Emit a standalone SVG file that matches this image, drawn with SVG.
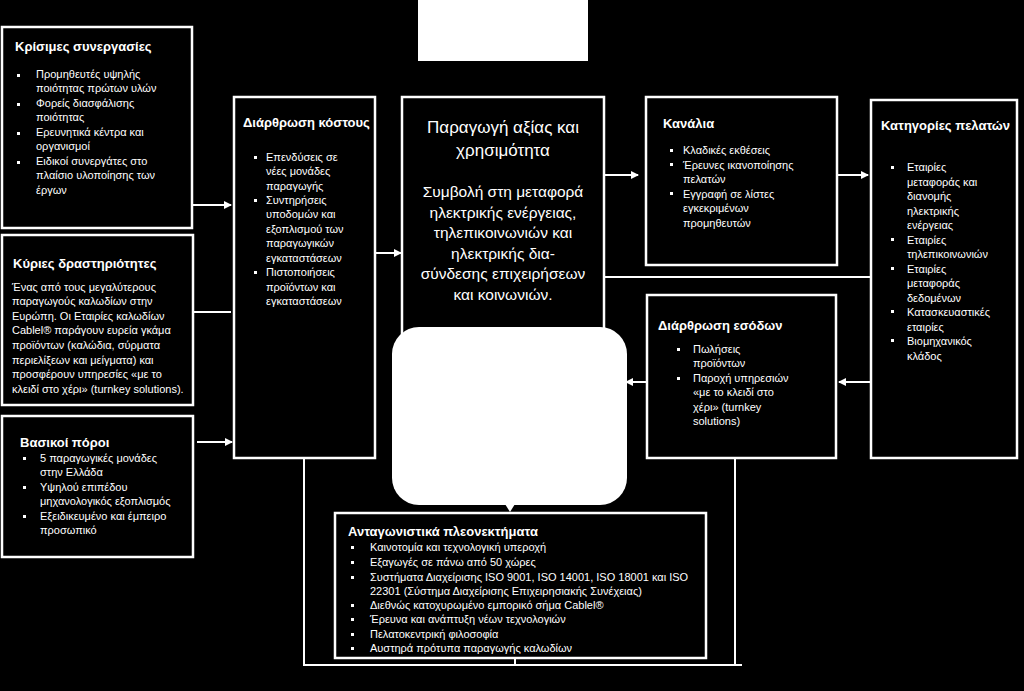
<svg xmlns="http://www.w3.org/2000/svg" width="1024" height="691" viewBox="0 0 1024 691">
<defs>
<style>
.box{fill:#000;stroke:#fff;stroke-width:2.5}
.t{font-family:"Liberation Sans",Arial,sans-serif;font-size:13px;font-weight:bold;fill:#fff}
.b{font-family:"Liberation Sans",Arial,sans-serif;font-size:11px;fill:#fff}
.c{font-family:"Liberation Sans",Arial,sans-serif;font-size:15.5px;fill:#fff;text-anchor:middle}
.ct{font-family:"Liberation Sans",Arial,sans-serif;font-size:17px;fill:#fff;text-anchor:middle}
.ln{stroke:#fff;stroke-width:2;fill:none}
.bu{fill:#fff}
</style>
<marker id="ah" markerWidth="8" markerHeight="8" refX="7" refY="4" orient="auto" markerUnits="userSpaceOnUse">
<path d="M0,0 L8,4 L0,8 Z" fill="#fff"/>
</marker>
</defs>
<rect width="1024" height="691" fill="#000"/>

<g id="connectors">
<line class="ln" x1="193" y1="205" x2="231" y2="205" marker-end="url(#ah)"/>
<line class="ln" x1="193" y1="312" x2="231" y2="312"/>
<line class="ln" x1="197" y1="442" x2="232" y2="442" marker-end="url(#ah)"/>
<line class="ln" x1="376" y1="253" x2="401" y2="253" marker-end="url(#ah)"/>
<line class="ln" x1="605" y1="175" x2="638" y2="175" marker-end="url(#ah)"/>
<line class="ln" x1="838" y1="175" x2="868" y2="175" marker-end="url(#ah)"/>
<line class="ln" x1="605" y1="277" x2="870" y2="277"/>
<line class="ln" x1="870" y1="382" x2="839" y2="382" marker-end="url(#ah)"/>
<line class="ln" x1="646" y1="382" x2="626" y2="382" marker-end="url(#ah)"/>
<polyline class="ln" points="304,458 304,665 742,665"/>
<line class="ln" x1="735" y1="458" x2="735" y2="665"/>
<line class="ln" x1="515" y1="658" x2="515" y2="665"/>
</g>

<g id="top-block">
<rect x="418" y="0" width="170" height="61" fill="#fff"/>
</g>

<g id="krisimes">
<rect class="box" x="2" y="27" width="190" height="201"/>
<text class="t" x="15" y="51">Κρίσιμες συνεργασίες</text>
<rect class="bu" x="17" y="74" width="3" height="3"/><rect class="bu" x="17" y="103" width="3" height="3"/><rect class="bu" x="17" y="132" width="3" height="3"/><rect class="bu" x="17" y="161" width="3" height="3"/>
<text class="b" x="36" y="78">Προμηθευτές υψηλής</text>
<text class="b" x="36" y="92">ποιότητας πρώτων υλών</text>
<text class="b" x="36" y="107">Φορείς διασφάλισης</text>
<text class="b" x="36" y="121">ποιότητας</text>
<text class="b" x="36" y="136">Ερευνητικά κέντρα και</text>
<text class="b" x="36" y="150">οργανισμοί</text>
<text class="b" x="36" y="165">Ειδικοί συνεργάτες στο</text>
<text class="b" x="36" y="179">πλαίσιο υλοποίησης των</text>
<text class="b" x="36" y="194">έργων</text>
</g>

<g id="kyries">
<rect class="box" x="2" y="235" width="191" height="170"/>
<text class="t" x="13" y="268">Κύριες δραστηριότητες</text>
<text class="b" x="12" y="291">Ένας από τους μεγαλύτερους</text>
<text class="b" x="12" y="305">παραγωγούς καλωδίων στην</text>
<text class="b" x="12" y="320">Ευρώπη. Οι Εταιρίες καλωδίων</text>
<text class="b" x="12" y="334">Cablel® παράγουν ευρεία γκάμα</text>
<text class="b" x="12" y="349">προϊόντων (καλώδια, σύρματα</text>
<text class="b" x="12" y="364">περιελίξεων και μείγματα) και</text>
<text class="b" x="12" y="378">προσφέρουν υπηρεσίες «με το</text>
<text class="b" x="12" y="393">κλειδί στο χέρι» (turnkey solutions).</text>
</g>

<g id="vasikoi">
<rect class="box" x="2" y="416" width="191" height="141"/>
<text class="t" x="20" y="447">Βασικοί πόροι</text>
<rect class="bu" x="23" y="457" width="3" height="3"/><rect class="bu" x="23" y="486" width="3" height="3"/><rect class="bu" x="23" y="515" width="3" height="3"/>
<text class="b" x="40" y="462">5 παραγωγικές μονάδες</text>
<text class="b" x="40" y="476">στην Ελλάδα</text>
<text class="b" x="40" y="491">Υψηλού επιπέδου</text>
<text class="b" x="40" y="505">μηχανολογικός εξοπλισμός</text>
<text class="b" x="40" y="520">Εξειδικευμένο και έμπειρο</text>
<text class="b" x="40" y="534">προσωπικό</text>
</g>

<g id="kostos">
<rect class="box" x="234" y="97" width="141" height="361"/>
<text class="t" x="243" y="127">Διάρθρωση κόστους</text>
<rect class="bu" x="254" y="156" width="3" height="3"/><rect class="bu" x="254" y="199" width="3" height="3"/><rect class="bu" x="254" y="271" width="3" height="3"/>
<text class="b" x="266" y="161">Επενδύσεις σε</text>
<text class="b" x="266" y="175">νέες μονάδες</text>
<text class="b" x="266" y="190">παραγωγής</text>
<text class="b" x="266" y="204">Συντηρήσεις</text>
<text class="b" x="266" y="218">υποδομών και</text>
<text class="b" x="266" y="233">εξοπλισμού των</text>
<text class="b" x="266" y="247">παραγωγικών</text>
<text class="b" x="266" y="262">εγκαταστάσεων</text>
<text class="b" x="266" y="276">Πιστοποιήσεις</text>
<text class="b" x="266" y="291">προϊόντων και</text>
<text class="b" x="266" y="305">εγκαταστάσεων</text>
</g>

<g id="axia">
<rect class="box" x="402" y="97" width="202" height="240"/>
<text class="ct" x="503" y="133">Παραγωγή αξίας και</text>
<text class="ct" x="503" y="156">χρησιμότητα</text>
<text class="c" x="503" y="197">Συμβολή στη μεταφορά</text>
<text class="c" x="503" y="217.5">ηλεκτρικής ενέργειας,</text>
<text class="c" x="503" y="238">τηλεπικοινωνιών και</text>
<text class="c" x="503" y="258.5">ηλεκτρικής δια-</text>
<text class="c" x="503" y="279">σύνδεσης επιχειρήσεων</text>
<text class="c" x="503" y="299.5">και κοινωνιών.</text>
</g>

<g id="white-panel">
<rect x="392" y="327" width="235" height="178" rx="27" ry="27" fill="#fff"/>
<path d="M505,504 L515,504 L510,512 Z" fill="#fff"/>
</g>

<g id="kanalia">
<rect class="box" x="646" y="97" width="191" height="168"/>
<text class="t" x="663" y="128">Κανάλια</text>
<rect class="bu" x="670" y="149" width="3" height="3"/><rect class="bu" x="670" y="163" width="3" height="3"/><rect class="bu" x="670" y="192" width="3" height="3"/>
<text class="b" x="683" y="154">Κλαδικές εκθέσεις</text>
<text class="b" x="683" y="169">Έρευνες ικανοποίησης</text>
<text class="b" x="683" y="183">πελατών</text>
<text class="b" x="683" y="198">Εγγραφή σε λίστες</text>
<text class="b" x="683" y="212">εγκεκριμένων</text>
<text class="b" x="683" y="227">προμηθευτών</text>
</g>

<g id="pelates">
<rect class="box" x="871" y="100" width="146" height="358"/>
<text class="t" x="881" y="130">Κατηγορίες πελατών</text>
<rect class="bu" x="891" y="166" width="3" height="3"/><rect class="bu" x="891" y="238" width="3" height="3"/><rect class="bu" x="891" y="267" width="3" height="3"/><rect class="bu" x="891" y="310" width="3" height="3"/><rect class="bu" x="891" y="339" width="3" height="3"/>
<text class="b" x="907" y="171">Εταιρίες</text>
<text class="b" x="907" y="185.5">μεταφοράς και</text>
<text class="b" x="907" y="200">διανομής</text>
<text class="b" x="907" y="214.5">ηλεκτρικής</text>
<text class="b" x="907" y="229">ενέργειας</text>
<text class="b" x="907" y="243.5">Εταιρίες</text>
<text class="b" x="907" y="258">τηλεπικοινωνιών</text>
<text class="b" x="907" y="272.5">Εταιρίες</text>
<text class="b" x="907" y="287">μεταφοράς</text>
<text class="b" x="907" y="301.5">δεδομένων</text>
<text class="b" x="907" y="316">Κατασκευαστικές</text>
<text class="b" x="907" y="330.5">εταιρίες</text>
<text class="b" x="907" y="345">Βιομηχανικός</text>
<text class="b" x="907" y="359.5">κλάδος</text>
</g>

<g id="esoda">
<rect class="box" x="647" y="295" width="189" height="163"/>
<text class="t" x="658" y="330">Διάρθρωση εσόδων</text>
<rect class="bu" x="677" y="348" width="3" height="3"/><rect class="bu" x="677" y="377" width="3" height="3"/>
<text class="b" x="693" y="353">Πωλήσεις</text>
<text class="b" x="693" y="367">προϊόντων</text>
<text class="b" x="693" y="382">Παροχή υπηρεσιών</text>
<text class="b" x="693" y="396">«με το κλειδί στο</text>
<text class="b" x="693" y="411">χέρι» (turnkey</text>
<text class="b" x="693" y="425">solutions)</text>
</g>

<g id="antagonistika">
<rect class="box" x="335" y="513" width="371" height="145"/>
<text class="t" x="348" y="536">Ανταγωνιστικά πλεονεκτήματα</text>
<rect class="bu" x="351" y="546" width="3" height="3"/><rect class="bu" x="351" y="561" width="3" height="3"/><rect class="bu" x="351" y="576" width="3" height="3"/><rect class="bu" x="351" y="604" width="3" height="3"/><rect class="bu" x="351" y="618" width="3" height="3"/><rect class="bu" x="351" y="633" width="3" height="3"/><rect class="bu" x="351" y="647" width="3" height="3"/>
<text class="b" x="370" y="551">Καινοτομία και τεχνολογική υπεροχή</text>
<text class="b" x="370" y="566">Εξαγωγές σε πάνω από 50 χώρες</text>
<text class="b" x="370" y="581">Συστήματα Διαχείρισης ISO 9001, ISO 14001, ISO 18001 και ISO</text>
<text class="b" x="370" y="595">22301 (Σύστημα Διαχείρισης Επιχειρησιακής Συνέχειας)</text>
<text class="b" x="370" y="609">Διεθνώς κατοχυρωμένο εμπορικό σήμα Cablel®</text>
<text class="b" x="370" y="623">Έρευνα και ανάπτυξη νέων τεχνολογιών</text>
<text class="b" x="370" y="638">Πελατοκεντρική φιλοσοφία</text>
<text class="b" x="370" y="652">Αυστηρά πρότυπα παραγωγής καλωδίων</text>
</g>
</svg>
